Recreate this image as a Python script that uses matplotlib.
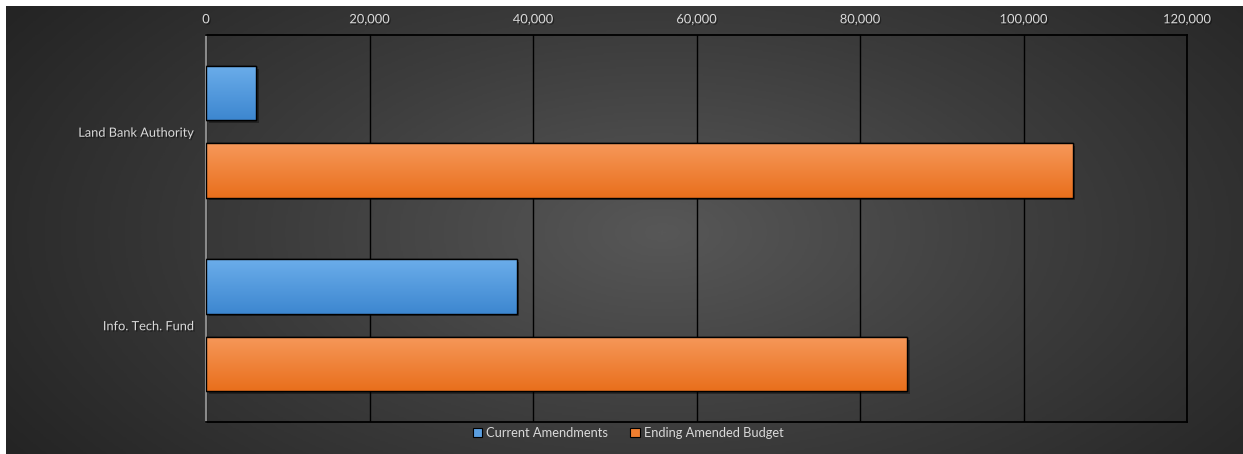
import numpy as np
import matplotlib
matplotlib.use("Agg")
import matplotlib.pyplot as plt
import matplotlib.patheffects as pe
from matplotlib.colors import LinearSegmentedColormap
from matplotlib.patches import Patch

categories = ["Land Bank Authority", "Info. Tech. Fund"]
current_amendments = [6100, 38000]
ending_amended_budget = [106000, 85800]
series_names = ["Current Amendments", "Ending Amended Budget"]
xticks = [0, 20000, 40000, 60000, 80000, 100000, 120000]

plt.rcParams['font.family'] = ['Lato', 'DejaVu Sans']

W, H = 1243, 454
fig = plt.figure(figsize=(W / 100, H / 100), dpi=100, facecolor='white')

# background with radial gradient
bg = fig.add_axes([6 / W, -0.01, 1.02 - 6 / W, 1.01 - 6 / H])
bg.set_axis_off()
yy, xx = np.mgrid[0:1:300j, 0:1:800j]
r = np.sqrt(((xx - 0.52) / 0.62) ** 2 + ((yy - 0.5) / 0.9) ** 2)
r = np.clip(r, 0, 1)
bgcmap = LinearSegmentedColormap.from_list('bg', ['#575757', '#3c3c3c', '#242424'])
bg.imshow(r, cmap=bgcmap, aspect='auto', extent=[0, 1, 0, 1], interpolation='bilinear')
bg.set_xlim(0, 1); bg.set_ylim(0, 1)

ax = fig.add_axes([206 / W, 1 - 422 / H, (1187 - 206) / W, (422 - 35) / H])
ax.patch.set_alpha(0)

y = np.arange(len(categories))
h = 0.28
off = 0.2
b1 = ax.barh(y - off, current_amendments, height=h, color='#4f93d8', edgecolor='black', linewidth=1.0, zorder=3)
b2 = ax.barh(y + off, ending_amended_budget, height=h, color='#ef7b2c', edgecolor='black', linewidth=1.0, zorder=3)

grad = np.linspace(0, 1, 100).reshape(-1, 1)
cm_blue = LinearSegmentedColormap.from_list('b', ['#6badea', '#3d87d0'])
cm_orng = LinearSegmentedColormap.from_list('o', ['#f6985a', '#e96f1c'])
for bars, cm in ((b1, cm_blue), (b2, cm_orng)):
    for p in bars:
        p.set_path_effects([pe.SimplePatchShadow(offset=(2, -2), shadow_rgbFace='black', alpha=0.35), pe.Normal()])
        x0, y0 = p.get_x(), p.get_y()
        w, hh = p.get_width(), p.get_height()
        im = ax.imshow(grad, cmap=cm, aspect='auto', extent=[x0, x0 + w, y0 + hh, y0],
                       zorder=3.5, interpolation='bilinear')
        im.set_clip_path(p)
        edge = plt.Rectangle((x0, y0), w, hh, fill=False, edgecolor='black', linewidth=1.0, zorder=4)
        ax.add_patch(edge)
ax.set_xlim(0, 120000)
ax.set_ylim(len(categories) - 0.5, -0.5)

ax.set_xticks(xticks)
ax.set_xticklabels([f"{v:,}" for v in xticks])
ax.xaxis.tick_top()
ax.tick_params(axis='x', length=0, pad=7, labelsize=9.3, labelcolor='#d9d9d9')
ax.set_yticks(y)
ax.set_yticklabels(categories)
ax.tick_params(axis='y', length=0, pad=9, labelsize=9.2, labelcolor='#d9d9d9')
for t in ax.get_xticklabels() + ax.get_yticklabels():
    t.set_path_effects([pe.withSimplePatchShadow(offset=(1, -1), shadow_rgbFace='black', alpha=0.4)])

ax.grid(axis='x', color='black', linewidth=1.0, zorder=1)
ax.grid(axis='y', visible=False)
ax.set_axisbelow(True)
for s in ('top', 'right', 'bottom'):
    ax.spines[s].set_color('black')
    ax.spines[s].set_linewidth(1.3)
ax.spines['left'].set_color('#8a8a8a')
ax.spines['left'].set_linewidth(1.5)

handles = [Patch(facecolor='#5a9ee0', edgecolor='black', linewidth=0.8),
           Patch(facecolor='#f07f30', edgecolor='black', linewidth=0.8)]
leg = fig.legend(handles, series_names, loc='center', bbox_to_anchor=(628 / W, 1 - 433 / H),
                 ncol=2, frameon=False, fontsize=9.3, handlelength=0.75, handleheight=0.75,
                 handletextpad=0.3, columnspacing=1.7, labelcolor='#d9d9d9')

fig.savefig('out.png', dpi=100, facecolor='white')
